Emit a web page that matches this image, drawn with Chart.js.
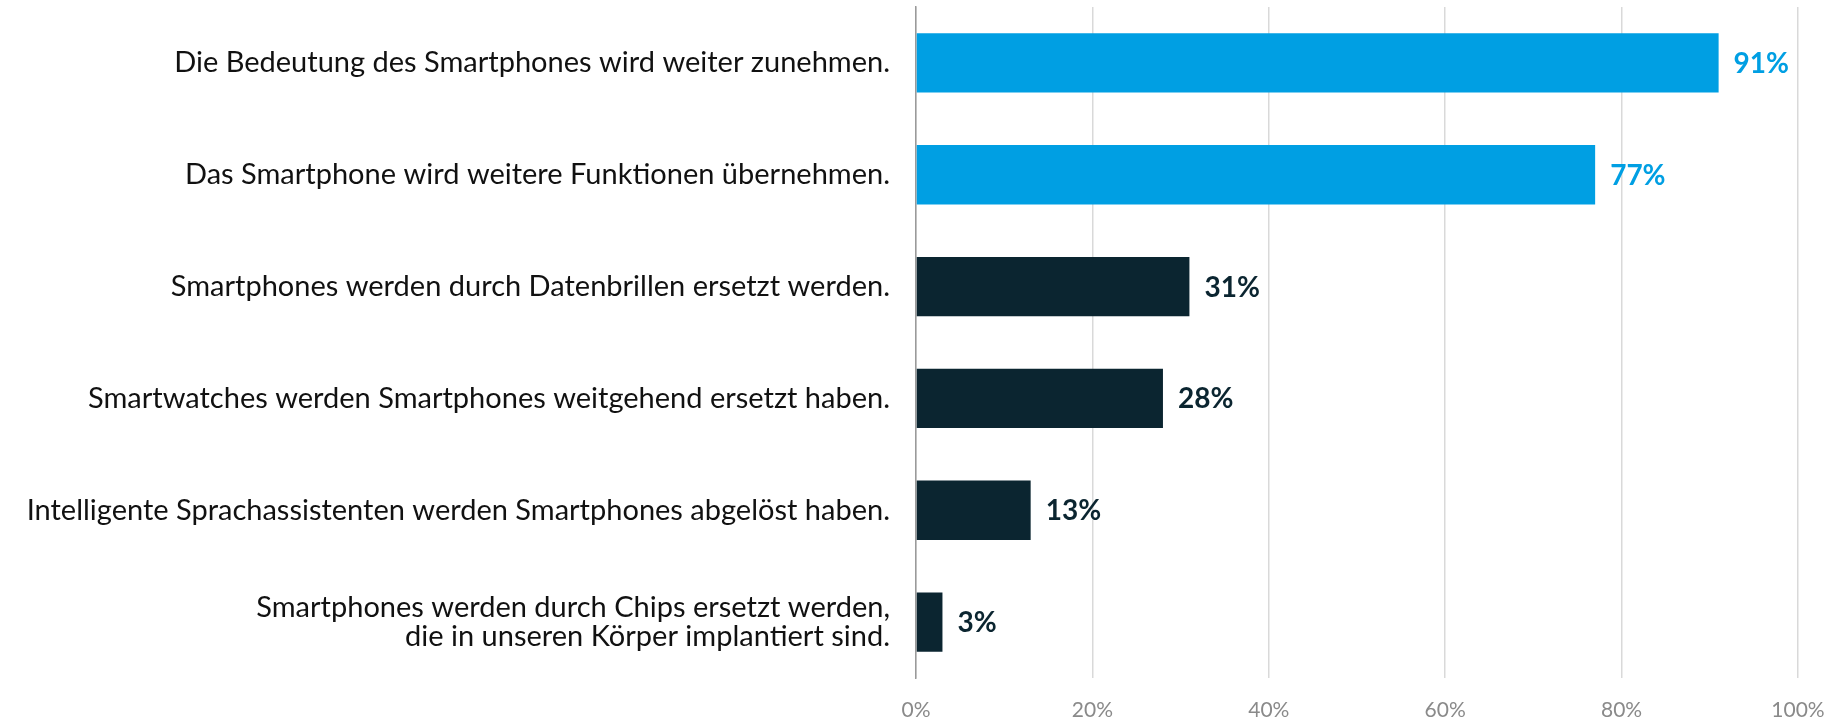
<!DOCTYPE html>
<html>
<head>
<meta charset="utf-8">
<script src="https://cdn.jsdelivr.net/npm/chart.js@4"></script>
<style>
  html, body { margin: 0; padding: 0; background: #fff; }
  #wrap { width: 1848px; height: 720px; }
</style>
</head>
<body>
<div id="wrap"><canvas id="chart"></canvas></div>
<script>
const labels = [
  'Die Bedeutung des Smartphones wird weiter zunehmen.',
  'Das Smartphone wird weitere Funktionen übernehmen.',
  'Smartphones werden durch Datenbrillen ersetzt werden.',
  'Smartwatches werden Smartphones weitgehend ersetzt haben.',
  'Intelligente Sprachassistenten werden Smartphones abgelöst haben.',
  ['Smartphones werden durch Chips ersetzt werden,', 'die in unseren Körper implantiert sind.']
];
const values = [91, 77, 31, 28, 13, 3];
const barColors = ['#009FE3', '#009FE3', '#0B2530', '#0B2530', '#0B2530', '#0B2530'];
const xTicks = [0, 20, 40, 60, 80, 100];

const FONT = 'Lato, "Open Sans", sans-serif';

// draws the value label just right of each bar
const valueLabels = {
  id: 'valueLabels',
  afterDatasetsDraw(chart) {
    const ctx = chart.ctx;
    const meta = chart.getDatasetMeta(0);
    ctx.save();
    ctx.font = 'bold 28px ' + FONT;
    ctx.textBaseline = 'middle';
    ctx.textAlign = 'left';
    meta.data.forEach((bar, i) => {
      ctx.fillStyle = barColors[i];
      ctx.fillText(values[i] + '%', bar.x + 15, bar.y + 1);
    });
    ctx.restore();
  }
};

new Chart(document.getElementById('chart'), {
  type: 'bar',
  data: {
    labels: labels,
    datasets: [{
      data: values,
      backgroundColor: barColors,
      borderWidth: 0,
      barPercentage: 0.53,
      categoryPercentage: 1.0
    }]
  },
  options: {
    indexAxis: 'y',
    responsive: true,
    maintainAspectRatio: false,
    animation: false,
    layout: { padding: { top: 7, right: 50, left: 0, bottom: 0 } },
    plugins: {
      legend: { display: false },
      tooltip: { enabled: false }
    },
    scales: {
      x: {
        min: 0,
        max: 100,
        afterBuildTicks: scale => { scale.ticks = xTicks.map(v => ({ value: v })); },
        afterFit: scale => { scale.height = 42; scale.paddingLeft = 0; scale.paddingRight = 0; },
        grid: { color: '#d9d9d9', lineWidth: 1.5, drawTicks: false },
        border: { display: false },
        ticks: {
          padding: 20,
          color: '#8a8a8a',
          font: { family: FONT, size: 21 },
          callback: v => v + '%'
        }
      },
      y: {
        afterFit: scale => { scale.width = 916; scale.paddingTop = 0; scale.paddingBottom = 0; },
        grid: { display: false, drawTicks: false },
        border: { display: true, color: '#9a9a9a', width: 1.5 },
        ticks: {
          padding: 26,
          color: '#111',
          font: { family: FONT, size: 29, lineHeight: 1.03 }
        }
      }
    }
  },
  plugins: [valueLabels]
});
</script>
</body>
</html>
